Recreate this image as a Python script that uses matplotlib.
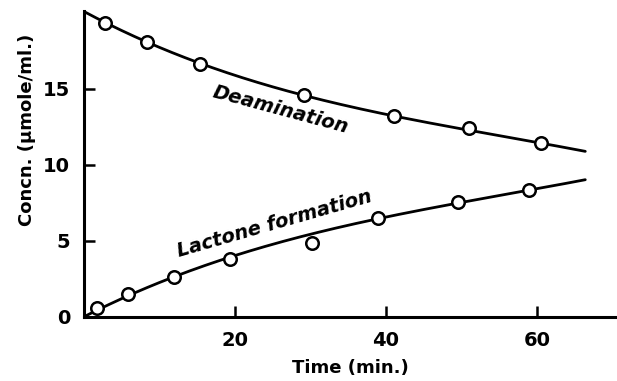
import numpy as np
import matplotlib
matplotlib.use("Agg")
import matplotlib.pyplot as plt

# measured points
deam_t = [2.8, 8.4, 15.4, 29.1, 41.1, 51.0, 60.5]
deam_c = [19.3, 18.07, 16.6, 14.6, 13.2, 12.4, 11.4]
lact_t = [1.7, 5.9, 11.9, 19.4, 30.2, 38.9, 49.6, 58.9]
lact_c = [0.57, 1.5, 2.65, 3.8, 4.85, 6.5, 7.57, 8.36]

# drawn curves
curve_t = [0, 5, 10, 15, 20, 30, 40, 50, 60, 66.4]
deam_curve = [20.1, 18.8, 17.7, 16.7, 15.9, 14.5, 13.3, 12.35, 11.45, 10.9]
lact_curve = [0.0, 1.2, 2.3, 3.2, 4.05, 5.4, 6.55, 7.55, 8.45, 9.0]

xticks = [20, 40, 60]
yticks = [0, 5, 10, 15]

plt.rcParams['font.family'] = ['DejaVu Sans']
fig = plt.figure(figsize=(6.17, 3.81), dpi=100)
ax = fig.add_axes([0.136, 0.168, 0.864, 0.803])

for ct, cy in [(curve_t, deam_curve), (curve_t, lact_curve)]:
    p = np.polyfit(ct, cy, 3)
    tt = np.linspace(ct[0], ct[-1], 200)
    ax.plot(tt, np.polyval(p, tt), color='black', lw=2.0, solid_capstyle='round')

ax.plot(deam_t, deam_c, 'o', ms=9, mfc='white', mec='black', mew=1.8, zorder=3)
ax.plot(lact_t, lact_c, 'o', ms=9, mfc='white', mec='black', mew=1.8, zorder=3)

ax.set_xlim(0, 70.6)
ax.set_ylim(0, 20.1)
ax.spines['top'].set_visible(False)
ax.spines['right'].set_visible(False)
ax.spines['left'].set_linewidth(2.2)
ax.spines['bottom'].set_linewidth(2.2)
ax.set_xticks(xticks)
ax.set_yticks(yticks)
ax.tick_params(direction='in', length=8, width=1.8, labelsize=14)
ax.tick_params(axis='x', pad=10)
ax.tick_params(axis='y', pad=10)
for lab in ax.get_xticklabels() + ax.get_yticklabels():
    lab.set_fontweight('bold')

fig.text(350/617, 1-368/381, 'Time (min.)', ha='center', va='center',
         fontsize=13, fontweight='bold')
fig.text(27/617, 1-130/381, 'Concn. (μmole/ml.)', ha='center', va='center',
         rotation=90, fontsize=13, fontweight='bold')

ax.text(26, 13.6, 'Deamination', rotation=-15, ha='center', va='center',
        fontsize=14, fontweight='bold', style='italic')
ax.text(25.3, 6.1, 'Lactone formation', rotation=16, ha='center', va='center',
        fontsize=14, fontweight='bold', style='italic')

fig.savefig('out.png', dpi=100)
